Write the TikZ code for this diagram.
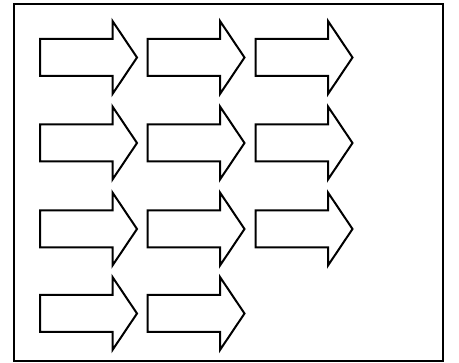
\documentclass[tikz,border=0pt]{standalone}
\begin{document}
\begin{tikzpicture}[x=1pt,y=-1pt,
  arrowbox/.style={draw=none, minimum width=97pt, minimum height=73pt, inner sep=0pt, outer sep=0pt},
  arrowline/.style={draw=black, line width=2pt, line join=miter},
  framebox/.style={draw=black, line width=2pt}]
\useasboundingbox (0,0) rectangle (459,363);
\node[framebox, minimum width=429pt, minimum height=357pt, inner sep=0pt] (frame) at (228.5,182.5) {};
\foreach \n/\x/\y in {a11/88.5/57.5, a12/196/57.5, a13/304/57.5,
                      a21/88.5/143, a22/196/143, a23/304/143,
                      a31/88.5/229, a32/196/229, a33/304/229,
                      a41/88.5/313.5, a42/196/313.5} {
  \node[arrowbox] (\n) at (\x,\y) {};
  \draw[arrowline] (\n.west) ++(0,-18.5) -- ++(72.5,0) -- ++(0,-18) -- (\n.east)
     -- ++(-24.5,36.5) -- ++(0,-18) -- ++(-72.5,0) -- cycle;
}
\end{tikzpicture}
\end{document}
